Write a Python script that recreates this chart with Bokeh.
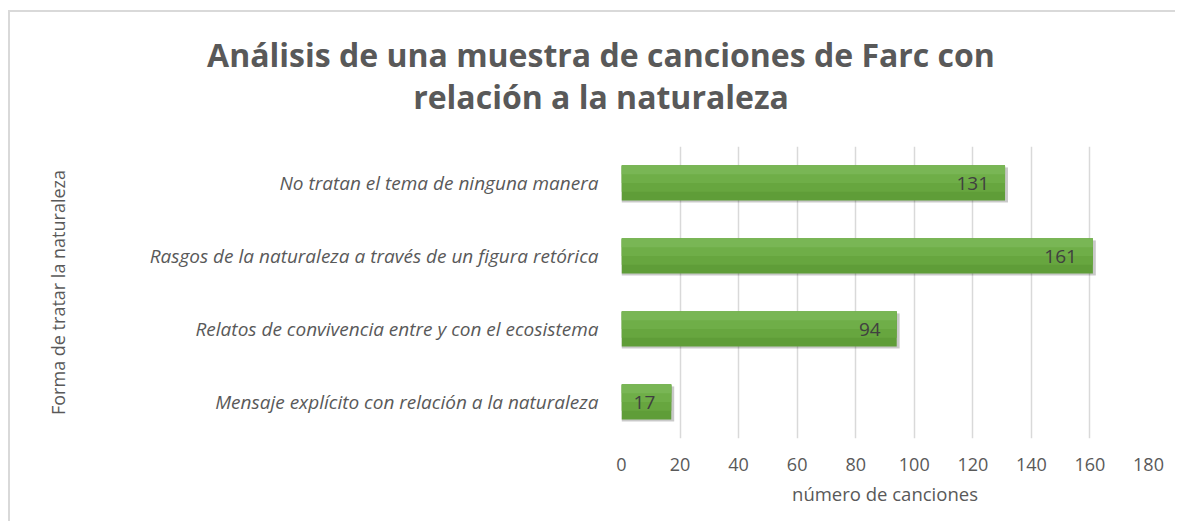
from bokeh.plotting import figure
from bokeh.models import ColumnDataSource, FactorRange, Div
from bokeh.layouts import column
from bokeh.transform import dodge
from bokeh.core.properties import value
from bokeh.embed import file_html
from bokeh.resources import INLINE

# ---- data ----
categories = [
    "No tratan el tema de ninguna manera",
    "Rasgos de la naturaleza a través de un figura retórica",
    "Relatos de convivencia entre y con el ecosistema",
    "Mensaje explícito con relación a la naturaleza",
]
counts = [131, 161, 94, 17]
title_lines = ["Análisis de una muestra de canciones de Farc con", "relación a la naturaleza"]
x_label = "número de canciones"
y_label = "Forma de tratar la naturaleza"
x_ticks = [0, 20, 40, 60, 80, 100, 120, 140, 160, 180]

FONT = "Open Sans"
GREY = "#595959"
W = 1165

src = ColumnDataSource(dict(
    cat=categories,
    val=counts,
    shadow=[v + 1 for v in counts],
    txt=[str(v) for v in counts],
))

title = Div(
    text=(
        f'<div style="box-sizing:border-box;font-family:\'{FONT}\';font-weight:bold;font-size:32px;'
        f'color:{GREY};line-height:42px;text-align:center;width:{W}px;padding-left:17px;padding-top:22px;">'
        + "<br>".join(title_lines) + "</div>"
    ),
    width=W, height=120, margin=0,
)

p = figure(
    width=W, height=389,
    y_range=FactorRange(factors=categories[::-1], range_padding=0),
    x_range=(0, 180),
    output_backend="svg", toolbar_location=None,
    min_border_left=611, min_border_right=27, min_border_top=14, min_border_bottom=83,
    margin=0,
)
p.outline_line_color = None
p.background_fill_color = "white"
p.border_fill_color = "white"

H = 0.48
# shadow
p.hbar(y=dodge("cat", -0.035, range=p.y_range), left=0, right="shadow", height=H,
       source=src, fill_color="black", fill_alpha=0.10, line_color=None)
p.hbar(y=dodge("cat", -0.02, range=p.y_range), left=0, right="shadow", height=H,
       source=src, fill_color="black", fill_alpha=0.12, line_color=None)
# gradient bar layers (bottom darker -> top lighter)
p.hbar(y="cat", left=0, right="val", height=H, source=src, fill_color="#5f9d38", line_color=None)
p.hbar(y=dodge("cat", 0.06, range=p.y_range), left=0, right="val", height=H * 0.75,
       source=src, fill_color="#67a63f", line_color=None)
p.hbar(y=dodge("cat", 0.12, range=p.y_range), left=0, right="val", height=H * 0.5,
       source=src, fill_color="#6fae48", line_color=None)
p.hbar(y=dodge("cat", 0.18, range=p.y_range), left=0, right="val", height=H * 0.25,
       source=src, fill_color="#79b655", line_color=None)

p.text(x="val", y="cat", text="txt", source=src, x_offset=-16,
       text_align="right", text_baseline="middle",
       text_font=value(FONT), text_font_size="19px", text_color="#404040")

# axes
p.xaxis.ticker = x_ticks
p.xaxis.axis_line_color = None
p.xaxis.major_tick_line_color = None
p.xaxis.minor_tick_line_color = None
p.xaxis.major_label_standoff = 13
p.xaxis.major_label_text_font = FONT
p.xaxis.major_label_text_font_size = "18px"
p.xaxis.major_label_text_color = GREY
p.xaxis.axis_label = x_label
p.xaxis.axis_label_text_font = FONT
p.xaxis.axis_label_text_font_size = "18.5px"
p.xaxis.axis_label_text_font_style = "normal"
p.xaxis.axis_label_text_color = GREY
p.xaxis.axis_label_standoff = 7

p.yaxis.axis_line_color = None
p.yaxis.major_tick_line_color = None
p.yaxis.minor_tick_line_color = None
p.yaxis.major_label_standoff = 17
p.yaxis.major_label_text_font = FONT
p.yaxis.major_label_text_font_size = "19px"
p.yaxis.major_label_text_font_style = "italic"
p.yaxis.major_label_text_color = GREY
p.yaxis.axis_label = y_label
p.yaxis.axis_label_text_font = FONT
p.yaxis.axis_label_text_font_size = "18px"
p.yaxis.axis_label_text_font_style = "normal"
p.yaxis.axis_label_text_color = GREY
p.yaxis.axis_label_standoff = 77

p.ygrid.grid_line_color = None
p.xgrid.grid_line_color = "#d9d9d9"
p.xgrid.grid_line_width = 1.5

layout = column(
    title, p,
    styles={"border-top": "2px solid #d9d9d9", "border-left": "2px solid #d9d9d9",
            "margin-left": "8px", "margin-top": "10px", "background": "white"},
)

open("out.html", "w").write(file_html(layout, INLINE))
